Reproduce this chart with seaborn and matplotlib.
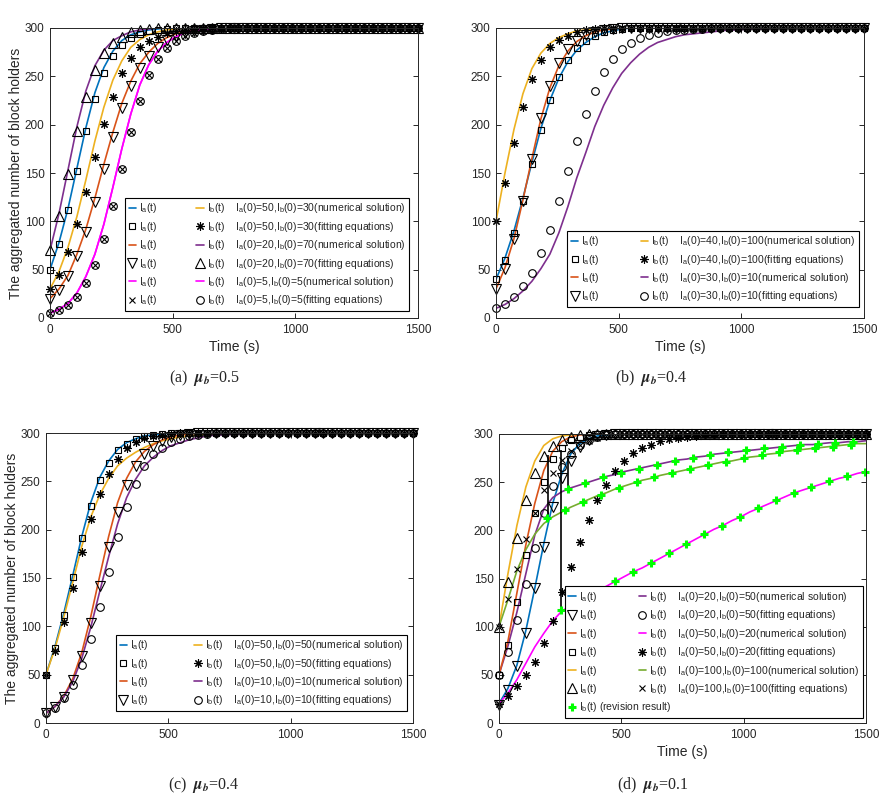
import numpy as np
import matplotlib
matplotlib.use("Agg")
import matplotlib.pyplot as plt
from matplotlib.lines import Line2D
import seaborn as sns

# sampling grid of the numerical / fitted curves (42 points over 0..1500 s)
t = np.linspace(0, 1500, 42)

# ---------------- (a) mu_b = 0.5 ----------------
a_blue = [50, 78, 113, 155, 197, 233, 259, 276, 287, 293,
          296, 298, 299, 300, 300, 300, 300, 300, 300, 300,
          300, 300, 300, 300, 300, 300, 300, 300, 300, 300,
          300, 300, 300, 300, 300, 300, 300, 300, 300, 300, 300, 300]
a_sq = [50, 77, 112, 152, 193, 227, 253, 271, 282, 290,
        294, 297, 298, 299, 300, 300, 300, 300, 300, 300,
        300, 300, 300, 300, 300, 300, 300, 300, 300, 300,
        300, 300, 300, 300, 300, 300, 300, 300, 300, 300, 300, 300]
a_orange = [30, 48, 73, 105, 143, 183, 218, 246, 266, 280,
            288, 293, 296, 298, 299, 300, 300, 300, 300, 300,
            300, 300, 300, 300, 300, 300, 300, 300, 300, 300,
            300, 300, 300, 300, 300, 300, 300, 300, 300, 300, 300, 300]
a_ast = [30, 45, 68, 97, 130, 167, 201, 229, 253, 269,
         280, 287, 291, 295, 297, 298, 299, 300, 300, 300,
         300, 300, 300, 300, 300, 300, 300, 300, 300, 300,
         300, 300, 300, 300, 300, 300, 300, 300, 300, 300, 300, 300]
a_red = [20, 30, 44, 66, 92, 124, 159, 192, 222, 245,
         263, 275, 284, 290, 294, 296, 298, 299, 300, 300,
         300, 300, 300, 300, 300, 300, 300, 300, 300, 300,
         300, 300, 300, 300, 300, 300, 300, 300, 300, 300, 300, 300]
a_dtri = [20, 29, 43, 64, 89, 120, 154, 187, 217, 240,
          259, 271, 280, 288, 292, 295, 297, 298, 299, 300,
          300, 300, 300, 300, 300, 300, 300, 300, 300, 300,
          300, 300, 300, 300, 300, 300, 300, 300, 300, 300, 300, 300]
a_purple = [70, 108, 153, 198, 235, 261, 277, 287, 292, 296,
            298, 299, 300, 300, 300, 300, 300, 300, 300, 300,
            300, 300, 300, 300, 300, 300, 300, 300, 300, 300,
            300, 300, 300, 300, 300, 300, 300, 300, 300, 300, 300, 300]
a_utri = [70, 106, 149, 193, 229, 257, 274, 285, 291, 296,
          298, 299, 300, 300, 300, 300, 300, 300, 300, 300,
          300, 300, 300, 300, 300, 300, 300, 300, 300, 300,
          300, 300, 300, 300, 300, 300, 300, 300, 300, 300, 300, 300]
a_pink = [5, 9, 15, 26, 43, 66, 97, 135, 175, 211,
          241, 262, 276, 285, 291, 295, 297, 298, 299, 300,
          300, 300, 300, 300, 300, 300, 300, 300, 300, 300,
          300, 300, 300, 300, 300, 300, 300, 300, 300, 300, 300, 300]
a_ring = [5, 8, 13, 22, 36, 55, 82, 116, 154, 192,
          225, 251, 268, 279, 287, 292, 295, 297, 298, 299,
          300, 300, 300, 300, 300, 300, 300, 300, 300, 300,
          300, 300, 300, 300, 300, 300, 300, 300, 300, 300, 300, 300]

# ---------------- (b) mu_b = 0.4 ----------------
b_blue = [40, 62, 90, 124, 161, 196, 225, 248, 265, 277,
          285, 291, 295, 297, 299, 300, 300, 300, 300, 300,
          300, 300, 300, 300, 300, 300, 300, 300, 300, 300,
          300, 300, 300, 300, 300, 300, 300, 300, 300, 300, 300, 300]
b_sq = [40, 60, 88, 121, 159, 195, 226, 249, 267, 279,
        287, 292, 296, 298, 299, 300, 300, 300, 300, 300,
        300, 300, 300, 300, 300, 300, 300, 300, 300, 300,
        300, 300, 300, 300, 300, 300, 300, 300, 300, 300, 300, 300]
b_orange = [100, 150, 195, 232, 258, 274, 284, 290, 294, 297,
            298, 299, 300, 300, 300, 300, 300, 300, 300, 300,
            300, 300, 300, 300, 300, 300, 300, 300, 300, 300,
            300, 300, 300, 300, 300, 300, 300, 300, 300, 300, 300, 300]
b_ast = [100, 140, 181, 218, 247, 267, 280, 288, 292, 296,
         298, 299, 300, 300, 300, 300, 300, 300, 300, 300,
         300, 300, 300, 300, 300, 300, 300, 300, 300, 300,
         300, 300, 300, 300, 300, 300, 300, 300, 300, 300, 300, 300]
b_red = [30, 52, 82, 122, 165, 206, 238, 261, 276, 286,
         292, 296, 298, 299, 300, 300, 300, 300, 300, 300,
         300, 300, 300, 300, 300, 300, 300, 300, 300, 300,
         300, 300, 300, 300, 300, 300, 300, 300, 300, 300, 300, 300]
b_dtri = [30, 51, 82, 121, 165, 207, 240, 264, 278, 287,
          293, 296, 298, 299, 300, 300, 300, 300, 300, 300,
          300, 300, 300, 300, 300, 300, 300, 300, 300, 300,
          300, 300, 300, 300, 300, 300, 300, 300, 300, 300, 300, 300]
b_purple = [10, 14, 20, 28, 38, 51, 66, 88, 115, 145,
            171, 198, 220, 238, 253, 264, 273, 280, 285, 288,
            291, 293, 294, 295, 296, 297, 298, 298, 299, 299,
            299, 300, 300, 300, 300, 300, 300, 300, 300, 300, 300, 300]
b_circ = [10, 15, 22, 33, 47, 67, 91, 121, 152, 183,
          211, 235, 254, 268, 278, 285, 290, 293, 295, 297,
          298, 298, 299, 299, 300, 300, 300, 300, 300, 300,
          300, 300, 300, 300, 300, 300, 300, 300, 300, 300, 300, 300]

# ---------------- (c) mu_b = 0.4 ----------------
c_blue = [50, 79, 114, 153, 193, 228, 254, 271, 283, 290,
          294, 297, 298, 299, 300, 300, 300, 300, 300, 300,
          300, 300, 300, 300, 300, 300, 300, 300, 300, 300,
          300, 300, 300, 300, 300, 300, 300, 300, 300, 300, 300, 300]
c_sq = [50, 78, 112, 151, 191, 225, 251, 269, 282, 289,
        294, 297, 298, 299, 300, 300, 300, 300, 300, 300,
        300, 300, 300, 300, 300, 300, 300, 300, 300, 300,
        300, 300, 300, 300, 300, 300, 300, 300, 300, 300, 300, 300]
c_orange = [50, 77, 110, 146, 183, 213, 236, 253, 266, 274,
            280, 285, 289, 292, 294, 296, 297, 298, 299, 299,
            300, 300, 300, 300, 300, 300, 300, 300, 300, 300,
            300, 300, 300, 300, 300, 300, 300, 300, 300, 300, 300, 300]
c_ast = [50, 74, 105, 140, 177, 211, 237, 258, 273, 284,
         291, 295, 297, 298, 299, 300, 300, 300, 300, 300,
         300, 300, 300, 300, 300, 300, 300, 300, 300, 300,
         300, 300, 300, 300, 300, 300, 300, 300, 300, 300, 300, 300]
c_red = [10, 17, 28, 46, 73, 110, 152, 193, 228, 253,
         270, 281, 288, 293, 296, 298, 299, 300, 300, 300,
         300, 300, 300, 300, 300, 300, 300, 300, 300, 300,
         300, 300, 300, 300, 300, 300, 300, 300, 300, 300, 300, 300]
c_dtri = [10, 17, 27, 44, 69, 103, 142, 182, 218, 246,
          266, 278, 287, 292, 296, 298, 299, 300, 300, 300,
          300, 300, 300, 300, 300, 300, 300, 300, 300, 300,
          300, 300, 300, 300, 300, 300, 300, 300, 300, 300, 300, 300]
c_purple = [10, 17, 27, 43, 67, 99, 136, 172, 206, 233,
            252, 266, 275, 282, 287, 290, 293, 295, 297, 298,
            298, 299, 299, 300, 300, 300, 300, 300, 300, 300,
            300, 300, 300, 300, 300, 300, 300, 300, 300, 300, 300, 300]
c_circ = [10, 16, 26, 39, 60, 87, 120, 156, 192, 223,
          247, 266, 278, 285, 291, 294, 297, 298, 299, 300,
          300, 300, 300, 300, 300, 300, 300, 300, 300, 300,
          300, 300, 300, 300, 300, 300, 300, 300, 300, 300, 300, 300]

# ---------------- (d) mu_b = 0.1 ----------------
d_blue = [20, 36, 60, 96, 140, 186, 228, 258, 279, 290,
          295, 298, 299, 300, 300, 300, 300, 300, 300, 300,
          300, 300, 300, 300, 300, 300, 300, 300, 300, 300,
          300, 300, 300, 300, 300, 300, 300, 300, 300, 300, 300, 300]
d_dtri = [19, 34, 59, 93, 140, 183, 224, 254, 272, 286,
          294, 298, 299, 300, 300, 300, 300, 300, 300, 300,
          300, 300, 300, 300, 300, 300, 300, 300, 300, 300,
          300, 300, 300, 300, 300, 300, 300, 300, 300, 300, 300, 300]
d_purple = [50, 80, 115, 155, 195, 222, 234, 240, 244, 247,
            250, 253, 256, 258, 261, 263, 265, 267, 269, 271,
            273, 274, 276, 277, 279, 280, 281, 282, 283, 284,
            285, 286, 287, 288, 289, 289, 290, 291, 291, 292, 292, 293]
d_circ = [50, 74, 107, 144, 182, 218, 246, 266, 279, 289,
          294, 297, 299, 300, 300, 300, 300, 300, 300, 300,
          300, 300, 300, 300, 300, 300, 300, 300, 300, 300,
          300, 300, 300, 300, 300, 300, 300, 300, 300, 300, 300, 300]
d_red = [50, 85, 135, 185, 228, 262, 282, 292, 297, 299,
         300, 300, 300, 300, 300, 300, 300, 300, 300, 300,
         300, 300, 300, 300, 300, 300, 300, 300, 300, 300,
         300, 300, 300, 300, 300, 300, 300, 300, 300, 300, 300, 300]
d_sq = [50, 81, 126, 174, 218, 250, 274, 285, 294, 297,
        299, 300, 300, 300, 300, 300, 300, 300, 300, 300,
        300, 300, 300, 300, 300, 300, 300, 300, 300, 300,
        300, 300, 300, 300, 300, 300, 300, 300, 300, 300, 300, 300]
d_pink = [20, 31, 45, 62, 79, 93, 106, 116, 122, 127,
          132, 137, 142, 147, 152, 157, 161, 166, 171, 176,
          181, 186, 191, 196, 201, 205, 210, 214, 219, 223,
          227, 231, 235, 239, 242, 245, 248, 251, 254, 256, 259, 261]
d_ast = [20, 28, 38, 50, 63, 83, 106, 136, 162, 188,
         211, 231, 247, 262, 272, 280, 285, 289, 293, 295,
         296, 297, 298, 299, 299, 300, 300, 300, 300, 300,
         300, 300, 300, 300, 300, 300, 300, 300, 300, 300, 300, 300]
d_yellow = [100, 155, 205, 245, 272, 288, 295, 298, 299, 300,
            300, 300, 300, 300, 300, 300, 300, 300, 300, 300,
            300, 300, 300, 300, 300, 300, 300, 300, 300, 300,
            300, 300, 300, 300, 300, 300, 300, 300, 300, 300, 300, 300]
d_utri = [100, 146, 192, 231, 260, 277, 288, 294, 297, 299,
          300, 300, 300, 300, 300, 300, 300, 300, 300, 300,
          300, 300, 300, 300, 300, 300, 300, 300, 300, 300,
          300, 300, 300, 300, 300, 300, 300, 300, 300, 300, 300, 300]
d_green = [100, 128, 158, 180, 196, 207, 214, 219, 224, 228,
           232, 236, 239, 243, 246, 249, 252, 254, 257, 259,
           261, 263, 265, 267, 269, 271, 272, 274, 276, 277,
           279, 280, 282, 283, 284, 285, 286, 287, 288, 289, 290, 290]
d_x = [100, 129, 160, 191, 218, 242, 260, 273, 282, 289,
       293, 296, 298, 299, 300, 300, 300, 300, 300, 300,
       300, 300, 300, 300, 300, 300, 300, 300, 300, 300,
       300, 300, 300, 300, 300, 300, 300, 300, 300, 300, 300, 300]

# revision results (green +) and the jumps drawn as black vertical lines
rev_t_green = [197, 270, 343, 416, 489, 562, 635, 708, 781, 854, 927, 1000,
               1073, 1146, 1219, 1292, 1365, 1438]
rev_green = [213, 221, 229, 237, 244, 250, 255, 260, 264, 268, 271, 275,
             278, 281, 283, 285, 287, 289]
rev_t_purple = [280, 353, 426, 499, 572, 645, 718, 791, 864, 937, 1010, 1083,
                1156, 1229, 1302, 1375, 1448]
rev_purple = [243, 249, 255, 260, 264, 268, 272, 275, 278, 281, 283, 285,
              287, 289, 290, 291, 292]
rev_t_pink = [255, 328, 401, 474, 547, 620, 693, 766, 839, 912, 985, 1058,
              1131, 1204, 1277, 1350, 1423, 1496]
rev_pink = [117, 127, 137, 147, 157, 166, 176, 186, 196, 205, 214, 223,
            231, 239, 245, 251, 256, 261]
jump_t = [200, 255, 280]
jump_lo = [214, 117, 242]
jump_hi = [278, 283, 275]

BLUE, RED, YEL, PUR = "#0072BD", "#D95319", "#EDB120", "#7E2F8E"
GRN, MAG, LIME = "#77AC30", "#FF00FF", "#00FF00"
AST = (8, 2, 0)  # matlab style '*'

sns.set_style("ticks")
plt.rcParams["font.family"] = ["Liberation Sans", "DejaVu Sans"]
plt.rcParams["mathtext.fontset"] = "custom"
plt.rcParams["mathtext.rm"] = "Liberation Sans"
plt.rcParams["mathtext.it"] = "Liberation Sans:italic"
plt.rcParams["mathtext.bf"] = "Liberation Sans:bold"

fig = plt.figure(figsize=(8.94, 7.97), dpi=100)
W, H = 894, 797


def make_ax(x0, x1, y0, y1):
    return fig.add_axes([x0 / W, 1 - y1 / H, (x1 - x0) / W, (y1 - y0) / H])


def line(ax, y, color):
    sns.lineplot(x=t, y=y, ax=ax, color=color, linewidth=1.2, estimator=None)


def marks(ax, y, marker, ms=5, x=None, color="k", mew=0.8):
    sns.lineplot(x=t if x is None else x, y=y, ax=ax, color=color, linestyle="none",
                 marker=marker, markersize=ms, markerfacecolor="none",
                 markeredgecolor=color, markeredgewidth=mew, clip_on=False,
                 estimator=None)


def h_line(c):
    return Line2D([], [], color=c, lw=1.2)


def h_mark(m, ms=5, c="k", mew=0.8):
    return Line2D([], [], ls="none", marker=m, ms=ms, mfc="none", mec=c, mew=mew)


IA = r"I$_\mathrm{a}$(t)"
IB = r"I$_\mathrm{b}$(t)"


def cond(a, b, kind):
    return IB + "    " + r"I$_\mathrm{a}$(0)=" + str(a) + r",I$_\mathrm{b}$(0)=" + str(b) + "(" + kind + ")"


def style(ax, xlabel=True, ylabel=True):
    ax.set_xlim(0, 1500)
    ax.set_ylim(0, 300)
    ax.set_xticks([0, 500, 1000, 1500])
    ax.set_yticks(range(0, 301, 50))
    ax.tick_params(direction="in", top=True, right=True, length=3.5, width=0.7,
                   labelsize=8.5, colors="#262626", pad=4)
    for s in ax.spines.values():
        s.set_linewidth(0.7)
        s.set_color("#262626")
    ax.set_xlabel("Time (s)" if xlabel else "", fontsize=10, labelpad=3)
    ax.set_ylabel("The aggregated number of block holders" if ylabel else "",
                  fontsize=10, labelpad=1)


def legend(ax, handles, labels, right, bottom, colsp):
    leg = ax.legend(handles, labels, ncol=2, loc="lower right",
                    bbox_to_anchor=(right / W, 1 - bottom / H),
                    bbox_transform=fig.transFigure, borderaxespad=0,
                    fontsize=7.5, handlelength=0.7, handletextpad=0.3,
                    columnspacing=colsp, labelspacing=0.42, borderpad=0.35,
                    frameon=True, fancybox=False, edgecolor="k", framealpha=1)
    leg.get_frame().set_linewidth(0.8)


def caption(x, y, letter, mu):
    fig.text(x / W, 1 - y / H, "(" + letter + ")  " + r"$\mathbfit{\mu}_\mathbfit{b}$=" + mu,
             family="Liberation Serif", math_fontfamily="stix",
             ha="center", va="center", fontsize=11.5)


# ---- panel a
ax = make_ax(50, 418, 28, 318)
for y, c in [(a_blue, BLUE), (a_orange, YEL), (a_red, RED), (a_purple, PUR),
             (a_pink, MAG), (a_pink, MAG)]:
    line(ax, y, c)
marks(ax, a_sq, "s", 5)
marks(ax, a_ast, AST, 6)
marks(ax, a_dtri, "v", 6.5)
marks(ax, a_utri, "^", 6.5)
marks(ax, a_ring, "x", 5)
marks(ax, a_ring, "o", 5.5)
style(ax)
legend(ax,
       [h_line(BLUE), h_mark("s"), h_line(RED), h_mark("v", 6.5), h_line(MAG), h_mark("x"),
        h_line(YEL), h_mark(AST, 6), h_line(PUR), h_mark("^", 6.5), h_line(MAG), h_mark("o", 5.5)],
       [IA] * 6 + [cond(50, 30, "numerical solution"), cond(50, 30, "fitting equations"),
                   cond(20, 70, "numerical solution"), cond(20, 70, "fitting equations"),
                   cond(5, 5, "numerical solution"), cond(5, 5, "fitting equations")],
       409, 311, 3.7)
caption(205, 378, "a", "0.5")

# ---- panel b
ax = make_ax(496, 864, 28, 318)
for y, c in [(b_blue, BLUE), (b_orange, YEL), (b_red, RED), (b_purple, PUR)]:
    line(ax, y, c)
marks(ax, b_sq, "s", 5)
marks(ax, b_ast, AST, 6)
marks(ax, b_dtri, "v", 6.5)
marks(ax, b_circ, "o", 5.5)
style(ax, ylabel=False)
legend(ax,
       [h_line(BLUE), h_mark("s"), h_line(RED), h_mark("v", 6.5),
        h_line(YEL), h_mark(AST, 6), h_line(PUR), h_mark("o", 5.5)],
       [IA] * 4 + [cond(40, 100, "numerical solution"), cond(40, 100, "fitting equations"),
                   cond(30, 10, "numerical solution"), cond(30, 10, "fitting equations")],
       859, 307, 3.9)
caption(651, 378, "b", "0.4")

# ---- panel c
ax = make_ax(46, 413, 433, 723)
for y, c in [(c_blue, BLUE), (c_orange, YEL), (c_red, RED), (c_purple, PUR)]:
    line(ax, y, c)
marks(ax, c_sq, "s", 5)
marks(ax, c_ast, AST, 6)
marks(ax, c_dtri, "v", 6.5)
marks(ax, c_circ, "o", 5.5)
style(ax, xlabel=False)
legend(ax,
       [h_line(BLUE), h_mark("s"), h_line(RED), h_mark("v", 6.5),
        h_line(YEL), h_mark(AST, 6), h_line(PUR), h_mark("o", 5.5)],
       [IA] * 4 + [cond(50, 50, "numerical solution"), cond(50, 50, "fitting equations"),
                   cond(10, 10, "numerical solution"), cond(10, 10, "fitting equations")],
       407, 711, 4.4)
caption(204, 785, "c", "0.4")

# ---- panel d
ax = make_ax(499, 866, 434, 723)
for y, c in [(d_blue, BLUE), (d_purple, PUR), (d_red, RED), (d_pink, MAG),
             (d_yellow, YEL), (d_green, GRN)]:
    line(ax, y, c)
ax.vlines(jump_t, jump_lo, jump_hi, color="k", lw=1.2)
marks(ax, d_dtri, "v", 6.5)
marks(ax, d_circ, "o", 5.5)
marks(ax, d_sq, "s", 5)
marks(ax, d_ast, AST, 6)
marks(ax, d_utri, "^", 6.5)
marks(ax, d_x, "x", 5)
for rt, rv in [(rev_t_green, rev_green), (rev_t_purple, rev_purple), (rev_t_pink, rev_pink)]:
    marks(ax, rv, "+", 6, x=rt, color=LIME, mew=2.2)
style(ax, ylabel=False)
legend(ax,
       [h_line(BLUE), h_mark("v", 6.5), h_line(RED), h_mark("s"), h_line(YEL), h_mark("^", 6.5),
        h_mark("+", 6, LIME, 2.2),
        h_line(PUR), h_mark("o", 5.5), h_line(MAG), h_mark(AST, 6), h_line(GRN), h_mark("x")],
       [IA] * 6 + [IB + " (revision result)"] +
       [cond(20, 50, "numerical solution"), cond(20, 50, "fitting equations"),
        cond(50, 20, "numerical solution"), cond(50, 20, "fitting equations"),
        cond(100, 100, "numerical solution"), cond(100, 100, "fitting equations")],
       863, 718, -3.1)
caption(653, 785, "d", "0.1")

fig.savefig("out.png", dpi=100)
